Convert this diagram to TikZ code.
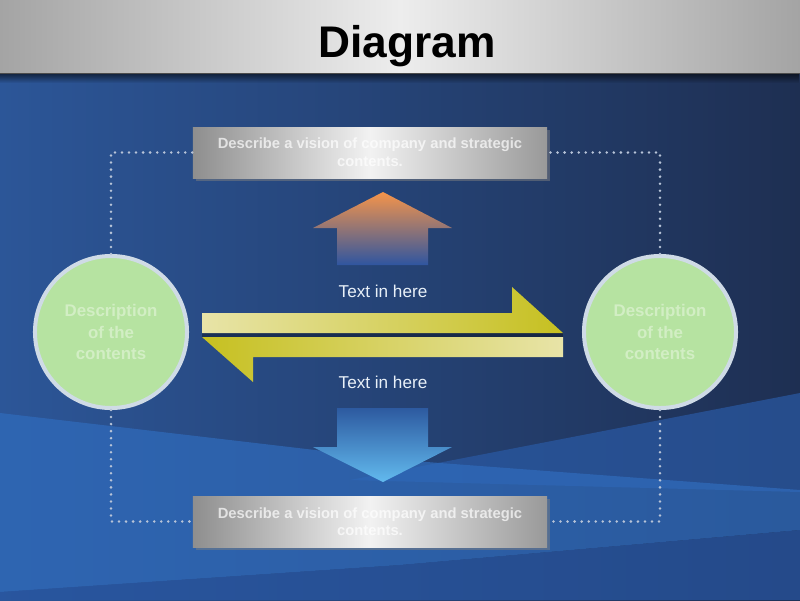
\documentclass[tikz,border=0pt]{standalone}
\usepackage{fontspec}
\setmainfont{Liberation Sans}
\usetikzlibrary{shadows,fadings}
\definecolor{bgL}{HTML}{2C5698}
\definecolor{bgR}{HTML}{1E2F52}
\definecolor{bandA}{HTML}{306CBD}
\definecolor{bandB}{HTML}{2A5AA5}
\definecolor{bandC}{HTML}{2856A2}
\definecolor{tbE}{HTML}{A4A4A4}
\definecolor{tbC}{HTML}{EDEDED}
\definecolor{boxE}{HTML}{8E8E8E}
\definecolor{boxC}{HTML}{F2F2F2}
\definecolor{greenF}{HTML}{B6E3A1}
\definecolor{greenT}{HTML}{D2EEC4}
\definecolor{ringC}{HTML}{CFDBE6}
\definecolor{dotC}{HTML}{B8C4D8}
\definecolor{yelL}{HTML}{E8E4A8}
\definecolor{yelD}{HTML}{C6C020}
\definecolor{orgT}{HTML}{F5944A}
\definecolor{orgM}{HTML}{B87478}
\definecolor{upB}{HTML}{2F55A0}
\definecolor{dnT}{HTML}{2D5AA0}
\definecolor{dnB}{HTML}{62BAEE}
\definecolor{lblC}{HTML}{E8F0F8}
\tikzset{
  sbox/.style={rectangle, minimum width=8.85cm, minimum height=1.275cm, inner sep=0pt,
    left color=boxE, right color=boxE!90, middle color=boxC,
    drop shadow={opacity=0.5, shadow xshift=2pt, shadow yshift=-2pt},
    align=center, text=white, text opacity=0.7,
    font=\bfseries\fontsize{10.5}{12.5}\selectfont},
  circ/.style={circle, draw=ringC, line width=0.1cm, fill=greenF, minimum size=3.8cm,
    inner sep=0pt, align=center, text=greenT,
    font=\bfseries\fontsize{12}{15}\selectfont},
  dotline/.style={dotC, line width=2pt, line cap=round, dash pattern=on 0pt off 5pt},
  lbl/.style={text=lblC, font=\fontsize{12.2}{14}\selectfont, inner sep=0pt},
  ttl/.style={text=black, font=\bfseries\fontsize{31.5}{36}\selectfont, inner sep=0pt}
}
\begin{document}
\begin{tikzpicture}[x=0.025cm,y=-0.025cm]
\useasboundingbox (0,0) rectangle (800,600);
% background
\shade[left color=bgL, right color=bgR] (0,73) rectangle (800,600);
\fill[bandB, opacity=0.7] (800,393) -- (350,480) -- (800,492) -- cycle;
\fill[bandA, opacity=0.7] (0,413) -- (400,460) -- (800,490) -- (800,530) -- (400,565) -- (0,592) -- cycle;
\fill[bandC, opacity=0.7] (0,592) -- (400,565) -- (800,530) -- (800,600) -- (0,600) -- cycle;
% title bar
\shade[left color=tbE, right color=tbE, middle color=tbC] (0,0) rectangle (800,73);
\fill[black, opacity=0.6, path fading=south] (0,73) rectangle (800,83);
\draw[black!70, line width=0.6pt] (0,73) -- (800,73);
\node[ttl, anchor=base] (title) at (407,57) {Diagram};
% nodes
\node[sbox] (T) at (370,152.5) {Describe a vision of company and strategic\\contents.};
\node[sbox] (B) at (370,521.5) {Describe a vision of company and strategic\\contents.};
\node[circ] (L) at (111,332) {Description\\of the\\contents};
\node[circ] (R) at (660,332) {Description\\of the\\contents};
% dotted frame
\draw[dotline] (L.north) |- (T.west);
\draw[dotline] (R.north) |- (T.east);
\draw[dotline] (L.south) |- (B.west);
\draw[dotline] (R.south) |- (B.east);
% up arrow
\shade[top color=orgT, middle color=orgM, bottom color=upB]
  (337,265) -- (337,228) -- (313,228) -- (383,192) -- (452,228) -- (428,228) -- (428,265) -- cycle;
% down arrow
\shade[top color=dnT, bottom color=dnB]
  (337,408) -- (428,408) -- (428,447) -- (452,447) -- (383,482) -- (313,447) -- (337,447) -- cycle;
% yellow arrows
\fill[black, opacity=0.35] (202,333) rectangle (563,337);
\shade[left color=yelL, right color=yelD]
  (202,313) -- (512,313) -- (512,287) -- (563,333) -- (202,333) -- cycle;
\shade[left color=yelD, right color=yelL]
  (202,337) -- (563,337) -- (563,357) -- (253,357) -- (253,382) -- cycle;
% labels
\node[lbl] (t1) at (383,291) {Text in here};
\node[lbl] (t2) at (383,382) {Text in here};
\end{tikzpicture}
\end{document}
